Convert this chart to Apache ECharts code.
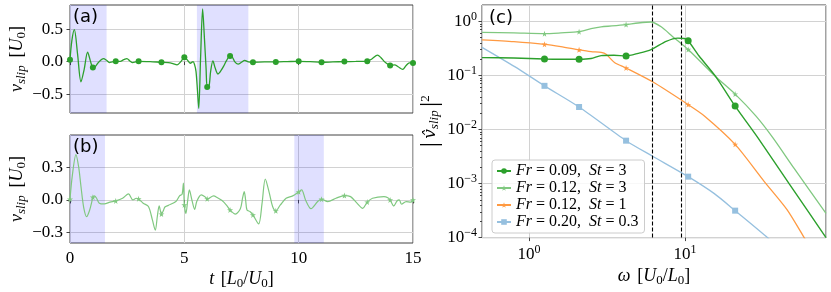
<!DOCTYPE html>
<html><head><meta charset="utf-8">
<script src="https://cdn.jsdelivr.net/npm/echarts@6/dist/echarts.min.js"></script>
<style>html,body{margin:0;padding:0;background:#fff}#c{width:831px;height:292px}</style>
</head><body><div id="c"></div>
<script>
// ---------- data ----------
const timeTicks = [0, 5, 10, 15];
const markerT = [0,1,2,3,4,5,6,7,8,9,10,11,12,13,14,15];

const tA = [0,0.08,0.19,0.33,0.48,0.62,0.77,0.9,1,1.1,1.25,1.46,1.6,1.72,1.85,2,2.2,2.35,2.49,2.62,2.74,2.87,3,3.5,4,4.3,4.5,4.68,4.85,5,5.12,5.26,5.38,5.45,5.51,5.57,5.63,5.71,5.8,5.88,5.95,6,6.08,6.15,6.25,6.35,6.47,6.6,6.72,6.85,7,7.1,7.2,7.35,7.5,7.64,7.8,8,8.5,9,9.5,10,10.5,11,11.5,12,12.5,13,13.2,13.45,13.6,13.75,13.9,14,14.2,14.35,14.55,14.7,14.84,15];
const vA = [0.03,0.32,0.49,0.12,-0.31,-0.12,0.145,0.0,-0.09,-0.08,-0.01,0.046,0.02,-0.015,-0.005,0.005,0.005,0.03,0.046,0.01,-0.015,-0.005,0.005,0.0,-0.01,-0.015,-0.03,-0.05,0.0,0.067,0.03,-0.025,0.0,-0.05,-0.15,-0.42,-0.72,0.05,0.81,0.35,-0.1,-0.39,-0.38,-0.15,0.01,-0.1,-0.19,-0.14,-0.07,0.02,0.088,0.07,0.0,-0.04,-0.01,0.02,-0.005,-0.01,-0.005,-0.005,0.0,0.005,0.0,-0.01,-0.005,0.0,0.002,0.005,0.04,0.10,0.06,0.0,-0.04,-0.06,-0.05,-0.08,-0.12,-0.06,-0.02,-0.02];

const tB = [0,0.1,0.26,0.38,0.48,0.6,0.73,0.85,0.95,1,1.06,1.15,1.28,1.5,1.75,2,2.3,2.56,2.75,2.9,3,3.2,3.43,3.6,3.73,3.82,3.9,4,4.08,4.15,4.3,4.63,4.8,4.9,4.96,5,5.07,5.15,5.22,5.33,5.45,5.55,5.74,5.9,6,6.28,6.45,6.65,6.85,7,7.23,7.45,7.55,7.62,7.68,7.74,7.88,8,8.25,8.4,8.54,8.72,8.86,9,9.2,9.45,9.74,10,10.13,10.3,10.54,10.83,11,11.27,11.63,12,12.27,12.55,12.8,13,13.23,13.73,13.9,14,14.16,14.3,14.4,14.5,14.7,14.9,15];
const vB = [0.006,0.22,0.415,0.3,0.123,-0.07,-0.154,-0.1,-0.02,0.025,0.037,0.02,-0.03,-0.037,-0.02,-0.009,0.015,0.055,0.0,0.015,0.01,-0.03,-0.06,-0.18,-0.277,-0.15,-0.055,-0.13,-0.1,-0.065,-0.05,-0.015,0.04,0.05,0.154,-0.046,-0.123,0.0,0.092,0.0,-0.086,-0.01,0.046,0.03,0.01,0.037,0.02,-0.006,-0.05,-0.092,-0.13,-0.08,0.02,0.077,0.0,-0.092,-0.108,-0.138,-0.22,-0.03,0.19,0.06,-0.06,-0.10,-0.046,0.015,0.037,0.074,0.092,0.0,-0.08,-0.015,0.006,-0.015,0.015,0.04,0.03,-0.03,-0.077,-0.02,0.015,0.03,0.02,0.0,-0.055,-0.01,0.0,-0.04,-0.015,-0.02,0.0];

const shadeA = [[0, 1.6], [5.55, 7.8]];
const shadeB = [[0, 1.53], [9.81, 11.1]];

const markerOmega = [1.257, 2.094, 4.189, 10.47, 20.94];
const dashedOmega = [6.15, 9.5];

const omega1 = [0.5,0.8,1.257,1.6,2.094,2.5,2.9,3.5,4.189,5.0,6.06,7.56,8.97,9.9,10.47,12.3,15.8,20.94,29.1,46.4,80];
const spec1  = [0.213,0.21,0.201,0.199,0.199,0.205,0.232,0.235,0.228,0.255,0.30,0.425,0.489,0.48,0.437,0.228,0.093,0.027,0.0072,0.001,0.0001];
const omega2 = [0.5,0.8,1.257,1.6,2.094,2.5,2.9,3.4,4.189,5.0,6.06,7.03,8.34,10.47,15.8,20.94,28.4,36.3,50,80];
const spec2  = [0.626,0.61,0.59,0.61,0.643,0.73,0.79,0.82,0.87,0.93,0.97,0.79,0.52,0.30,0.093,0.045,0.0178,0.0072,0.0019,0.00028];
const omega3 = [0.5,0.8,1.257,1.6,2.094,2.5,2.9,3.12,3.53,4.189,6.2,10.47,13.3,20.94,32.1,45,58,70];
const spec3  = [0.455,0.42,0.375,0.34,0.297,0.275,0.265,0.245,0.173,0.137,0.076,0.0288,0.0178,0.0053,0.0011,0.00033,0.0001,0.00004];
const omega4 = [0.5,0.81,1.257,2.094,4.189,6.12,10.47,15.4,20.94,33.7,40];
const spec4  = [0.33,0.145,0.064,0.026,0.0062,0.00326,0.00134,0.00065,0.000315,0.0001,0.00006];

const legendNames = ['Fr = 0.09, St = 3', 'Fr = 0.12, St = 3', 'Fr = 0.12, St = 1', 'Fr = 0.20, St = 0.3'];

// ---------- styling ----------
const SERIF = 'Liberation Serif';
const GRID = '#d2d2d2';
const SPINE = '#444';
const GREEN = '#2ca02c', LGREEN = '#80c880', ORANGE = '#ff9a42', BLUE = '#96c0df';
const STAR = 'path://M50,0 L61,35 L98,35 L68,57 L79,91 L50,70 L21,91 L32,57 L2,35 L39,35 Z';

function build(xs, ys, marks) {
  return xs.map((x, i) => marks.some(m => Math.abs(m - x) < 1e-9) ? [x, ys[i]] : {value: [x, ys[i]], symbol: 'none'});
}
const fmtLin = v => (v < 0 ? '\u2212' : '') + Math.abs(v).toFixed(1);
const fmtLog = v => { const e = Math.round(Math.log10(v)); return '{b|10}{e|' + (e < 0 ? '\u2212' : '') + Math.abs(e) + '}'; };

const labelRich = {
  b: {fontFamily: SERIF, fontSize: 17, color: '#000'},
  e: {fontFamily: SERIF, fontSize: 12, color: '#000', padding: [0, 0, 9, 0]}
};
const nameRich = {
  n: {fontFamily: SERIF, fontSize: 18, color: '#000'},
  i: {fontFamily: SERIF, fontSize: 18, fontStyle: 'italic', color: '#000'},
  h: {fontFamily: 'DejaVu Serif', fontSize: 17, fontStyle: 'italic', color: '#000'},
  s: {fontFamily: SERIF, fontSize: 13, fontStyle: 'italic', color: '#000', padding: [8, 0, 0, 0]},
  s0: {fontFamily: SERIF, fontSize: 13, color: '#000', padding: [8, 0, 0, 0]},
  sup: {fontFamily: SERIF, fontSize: 13, color: '#000', padding: [0, 0, 10, 0]},
  bar: {fontFamily: SERIF, fontSize: 26, color: '#000'}
};
const vslipName = '{i|v}{s|slip} {n| [}{i|U}{s0|0}{n|]}';

function linX(grid, labels, name) {
  return {
    type: 'value', gridIndex: grid, min: 0, max: 15, interval: 5,
    axisLine: {show: false},
    axisTick: {show: true, length: 3.5, lineStyle: {color: SPINE}},
    axisLabel: {show: labels, margin: 7, fontFamily: SERIF, fontSize: 17, color: '#000'},
    splitLine: {show: true, lineStyle: {color: GRID, width: 1}},
    name: name || '', nameLocation: 'middle', nameGap: 26,
    nameTextStyle: {rich: nameRich}
  };
}
function linY(grid, min, max, vals) {
  return {
    type: 'value', gridIndex: grid, min: min, max: max, splitNumber: 3,
    axisLine: {show: false},
    axisTick: {show: true, length: 3.5, lineStyle: {color: SPINE}, customValues: vals},
    axisLabel: {margin: 7, fontFamily: SERIF, fontSize: 17, color: '#000', formatter: fmtLin, customValues: vals},
    splitLine: {show: true, lineStyle: {color: GRID, width: 1}},
    name: vslipName, nameLocation: 'middle', nameRotate: 90, nameGap: 40,
    nameTextStyle: {rich: nameRich}
  };
}
const minorVals = [];
for (let e = -4; e <= 0; e++) for (let k = 2; k <= 9; k++) { const v = k * Math.pow(10, e); if (v < 2) minorVals.push(v); }

const shadeStyle = {color: 'rgba(0,0,255,0.12)'};
const toArea = arr => arr.map(r => [{xAxis: r[0]}, {xAxis: r[1]}]);

const option = {
  animation: false,
  backgroundColor: '#fff',
  grid: [
    {left: 70, top: 5, width: 343, height: 108, show: true, borderColor: SPINE, borderWidth: 1, backgroundColor: 'transparent'},
    {left: 70, top: 135, width: 343, height: 108, show: true, borderColor: SPINE, borderWidth: 1, backgroundColor: 'transparent'},
    {left: 482, top: 5, width: 344, height: 238, show: true, borderColor: SPINE, borderWidth: 1, backgroundColor: 'transparent'}
  ],
  xAxis: [
    linX(0, false),
    linX(1, true, '{i|t}  {n|[}{i|L}{s0|0}{n|/}{i|U}{s0|0}{n|]}'),
    {
      type: 'log', logBase: 10, gridIndex: 2, min: 0.5, max: 80,
      axisLine: {show: false},
      axisTick: {show: true, length: 3.5, lineStyle: {color: SPINE}},
      axisLabel: {margin: 6, formatter: fmtLog, rich: labelRich, showMinLabel: false, showMaxLabel: false},
      splitLine: {show: true, lineStyle: {color: GRID, width: 1}},
      name: '{i|\u03c9}  {n|[}{i|U}{s0|0}{n|/}{i|L}{s0|0}{n|]}', nameLocation: 'middle', nameGap: 26,
      nameTextStyle: {rich: nameRich}
    }
  ],
  yAxis: [
    linY(0, -0.79, 0.87, [-0.5, 0, 0.5]),
    linY(1, -0.395, 0.595, [-0.3, 0, 0.3]),
    {
      type: 'log', logBase: 10, gridIndex: 2, min: 0.0001, max: 2, position: 'left',
      axisLine: {show: false},
      axisTick: {show: true, length: 3.5, lineStyle: {color: SPINE}},
      axisLabel: {margin: 5, formatter: fmtLog, rich: labelRich, showMaxLabel: false},
      splitLine: {show: true, lineStyle: {color: GRID, width: 1}},
      name: '{bar||} {h|v\u0302}{s|slip} {bar||}{sup|2}', nameLocation: 'middle', nameRotate: 90, nameGap: 36,
      nameTextStyle: {rich: nameRich}
    },
    {
      type: 'log', logBase: 10, gridIndex: 2, min: 0.0001, max: 2, position: 'left', offset: 0,
      axisLine: {show: false}, axisLabel: {show: false}, splitLine: {show: false},
      axisTick: {show: true, length: 2, lineStyle: {color: SPINE}, customValues: minorVals}
    }
  ],
  legend: {
    left: 492, top: 160, orient: 'vertical',
    data: legendNames,
    itemWidth: 14, itemHeight: 7, itemGap: 1,
    backgroundColor: 'rgba(255,255,255,0.85)', borderColor: '#cccccc', borderWidth: 1, borderRadius: 3,
    padding: [3, 6, 3, 4],
    formatter: n => { const p = n.split(', '); const a = p[0].split(' = '), b = p[1].split(' = ');
      return '{i|' + a[0] + '}{n| = ' + a[1] + ',  }{i|' + b[0] + '}{n| = ' + b[1] + '}'; },
    textStyle: {fontFamily: SERIF, fontSize: 16, lineHeight: 16, color: '#000',
      rich: {i: {fontFamily: SERIF, fontSize: 16, fontStyle: 'italic', color: '#000'},
             n: {fontFamily: SERIF, fontSize: 16, color: '#000'}}}
  },
  graphic: [
    {type: 'text', left: 73, top: 8, style: {text: '(a)', font: '18px "DejaVu Sans"', fill: '#000'}, z: 100},
    {type: 'text', left: 73, top: 138, style: {text: '(b)', font: '18px "DejaVu Sans"', fill: '#000'}, z: 100},
    {type: 'text', left: 489, top: 9, style: {text: '(c)', font: '18px "DejaVu Sans"', fill: '#000'}, z: 100}
  ],
  series: [
    {
      type: 'line', xAxisIndex: 0, yAxisIndex: 0, data: build(tA, vA, markerT),
      symbol: 'circle', symbolSize: 6, showSymbol: true, smooth: 0.3,
      lineStyle: {color: GREEN, width: 1.3}, itemStyle: {color: GREEN},
      markArea: {silent: true, itemStyle: shadeStyle, data: toArea(shadeA)}
    },
    {
      type: 'line', xAxisIndex: 1, yAxisIndex: 1, data: build(tB, vB, markerT),
      symbol: STAR, symbolSize: 6, showSymbol: true, smooth: 0.3,
      lineStyle: {color: LGREEN, width: 1.2}, itemStyle: {color: LGREEN},
      markArea: {silent: true, itemStyle: shadeStyle, data: toArea(shadeB)}
    },
    {
      name: legendNames[0], type: 'line', xAxisIndex: 2, yAxisIndex: 2, data: build(omega1, spec1, markerOmega),
      symbol: 'circle', symbolSize: 7, showSymbol: true, smooth: 0.25, z: 5,
      lineStyle: {color: GREEN, width: 1.4}, itemStyle: {color: GREEN},
      markLine: {silent: true, symbol: 'none', label: {show: false},
        lineStyle: {type: [4, 2], color: '#000', width: 1.1}, data: dashedOmega.map(x => ({xAxis: x}))}
    },
    {
      name: legendNames[1], type: 'line', xAxisIndex: 2, yAxisIndex: 2, data: build(omega2, spec2, markerOmega),
      symbol: STAR, symbolSize: 6, showSymbol: true, smooth: 0.25, z: 4,
      lineStyle: {color: LGREEN, width: 1.3}, itemStyle: {color: LGREEN}
    },
    {
      name: legendNames[2], type: 'line', xAxisIndex: 2, yAxisIndex: 2, data: build(omega3, spec3, markerOmega),
      symbol: STAR, symbolSize: 6, showSymbol: true, smooth: 0.25, z: 3,
      lineStyle: {color: ORANGE, width: 1.3}, itemStyle: {color: ORANGE}
    },
    {
      name: legendNames[3], type: 'line', xAxisIndex: 2, yAxisIndex: 2, data: build(omega4, spec4, markerOmega),
      symbol: 'rect', symbolSize: 6, showSymbol: true, smooth: 0.25, z: 2,
      lineStyle: {color: BLUE, width: 1.3}, itemStyle: {color: BLUE}
    }
  ]
};
const chart = echarts.init(document.getElementById('c'), null, {renderer: 'canvas'});
chart.setOption(option);
</script></body></html>
